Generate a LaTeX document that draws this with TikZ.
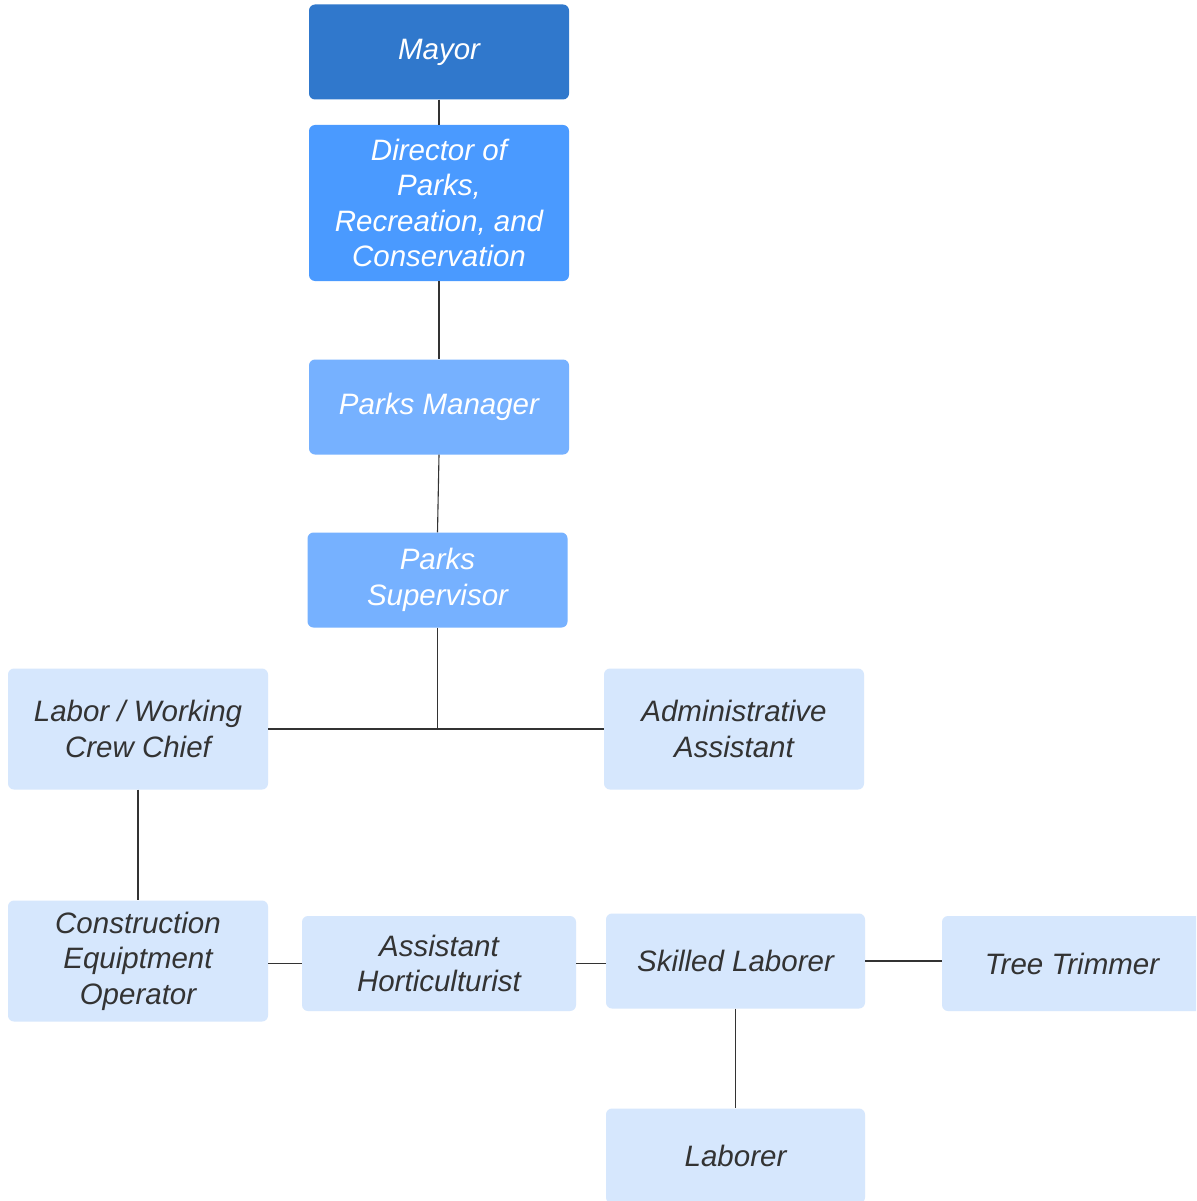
\documentclass[tikz,border=0pt]{standalone}
\usepackage{fontspec}
\setmainfont{Liberation Sans}
\definecolor{cMayor}{RGB}{48,120,204}
\definecolor{cDir}{RGB}{74,154,255}
\definecolor{cMgr}{RGB}{118,177,255}
\definecolor{cLight}{RGB}{214,231,253}
\definecolor{cText}{RGB}{51,51,51}
\definecolor{cLine}{RGB}{51,51,51}
\tikzset{
  box/.style={rectangle, rounded corners=6pt, inner sep=0pt, align=center,
    font=\itshape\fontsize{29.5}{35.5}\selectfont},
  dark/.style={box, fill=#1, text=white},
  light/.style={box, fill=cLight, text=cText},
  link/.style={draw=cLine, line width=1.1pt}
}
\begin{document}
\begin{tikzpicture}[x=1pt,y=-1pt]
\useasboundingbox (0,0) rectangle (1196,1201);
\clip (0,0) rectangle (1196,1201);
\fill[white] (0,0) rectangle (1196,1201);
\node[dark=cMayor, minimum width=260pt, minimum height=95pt] (mayor) at (439,52) {Mayor};
\node[dark=cDir, minimum width=260pt, minimum height=156pt] (dir) at (439,203) {Director of\\Parks,\\Recreation, and\\Conservation};
\node[dark=cMgr, minimum width=260pt, minimum height=95pt] (mgr) at (439,407) {Parks Manager};
\node[dark=cMgr, minimum width=260pt, minimum height=95pt] (sup) at (437.5,580) {Parks\\Supervisor};
\node[light, minimum width=260pt, minimum height=121pt] (labor) at (138,729) {Labor / Working\\Crew Chief};
\node[light, minimum width=260pt, minimum height=121pt] (admin) at (734,729) {Administrative\\Assistant};
\node[light, minimum width=260pt, minimum height=121pt] (constr) at (138,961) {Construction\\Equiptment\\Operator};
\node[light, minimum width=274pt, minimum height=95pt] (hort) at (439,963.5) {Assistant\\Horticulturist};
\node[light, minimum width=259pt, minimum height=95pt] (skill) at (735.5,961) {Skilled Laborer};
\node[light, minimum width=260pt, minimum height=95pt] (tree) at (1072,963.5) {Tree Trimmer};
\node[light, minimum width=259pt, minimum height=95pt] (lab) at (735.5,1156) {Laborer};
\draw[link] (mayor.south) -- (dir.north);
\draw[link] (dir.south) -- (mgr.north);
\draw[link] (mgr.south) -- (sup.north);
\draw[link] (sup.south) -- (sup.south |- labor.east);
\draw[link] (labor.east) -- (admin.west);
\draw[link] (labor.south) -- (constr.north);
\draw[link] (hort.west -| constr.east) -- (hort.west);
\draw[link] (hort.east) -- (hort.east -| skill.west);
\draw[link] (skill.east) -- (skill.east -| tree.west);
\draw[link] (skill.south) -- (lab.north);
\end{tikzpicture}
\end{document}
